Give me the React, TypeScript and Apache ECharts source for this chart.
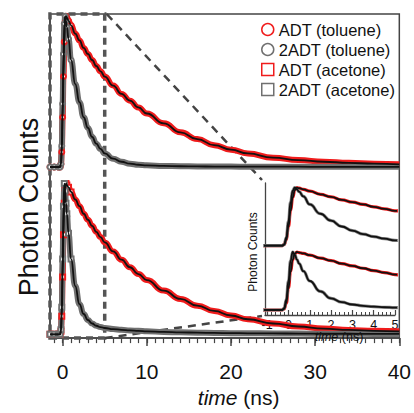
import React, { useEffect, useRef } from "react";
import * as echarts from "echarts";

// time axis (ns)
const TIME = [-1.5, -1, -0.5, -0.3, -0.2, -0.1, 0, 0.1, 0.2, 0.3, 0.4, 0.5, 0.7, 1, 1.5, 2, 2.5, 3, 3.5, 4, 4.5, 5, 6, 7, 8, 9, 10, 12, 14, 16, 18, 20, 22, 25, 28, 31, 34, 37, 40];
// normalised photon counts
const ADT_TOL = [0, 0, 0, 0, 0.02, 0.1, 0.33, 0.6, 0.83, 0.96, 1.0, 0.99, 0.97, 0.94, 0.885, 0.84, 0.79, 0.75, 0.71, 0.67, 0.635, 0.6, 0.54, 0.485, 0.44, 0.395, 0.355, 0.29, 0.23, 0.185, 0.145, 0.115, 0.09, 0.062, 0.046, 0.035, 0.028, 0.022, 0.018];
const TADT_TOL = [0, 0, 0, 0, 0.02, 0.14, 0.42, 0.75, 0.95, 1.0, 0.97, 0.93, 0.85, 0.71, 0.55, 0.43, 0.33, 0.26, 0.2, 0.155, 0.12, 0.09, 0.055, 0.035, 0.022, 0.015, 0.011, 0.007, 0.005, 0.004, 0.003, 0.003, 0.002, 0.002, 0.002, 0.001, 0.001, 0.001, 0.001];
const ADT_ACE = [0, 0, 0, 0, 0.02, 0.12, 0.38, 0.66, 0.87, 0.97, 1.0, 0.99, 0.975, 0.945, 0.895, 0.85, 0.8, 0.76, 0.72, 0.68, 0.645, 0.61, 0.55, 0.495, 0.445, 0.4, 0.36, 0.29, 0.235, 0.19, 0.155, 0.125, 0.1, 0.072, 0.052, 0.038, 0.029, 0.023, 0.02];
const TADT_ACE = [0, 0, 0, 0, 0.03, 0.18, 0.5, 0.85, 1.0, 0.95, 0.87, 0.8, 0.67, 0.5, 0.32, 0.2, 0.135, 0.095, 0.072, 0.057, 0.048, 0.042, 0.035, 0.03, 0.026, 0.023, 0.02, 0.016, 0.013, 0.011, 0.009, 0.008, 0.007, 0.006, 0.005, 0.004, 0.004, 0.003, 0.003];

const NAMES = ["ADT (toluene)", "2ADT (toluene)", "ADT (acetone)", "2ADT (acetone)"];
const X_TICKS = [0, 10, 20, 30, 40];
const INSET_X_TICKS = [-1, 0, 1, 2, 3, 4, 5];

const X_MIN = -1.5, X_MAX = 40;
const Y_MIN = -0.025, Y_MAX = 2.125;
const OFFSET = 1.11; // vertical stacking of the toluene traces
const BOX = [-1.5, 5]; // zoom region
const IX_MIN = -1.1, IX_MAX = 5;
const IY_MIN = -0.086, IY_MAX = 2.19;

const RED = "#f01c1c";
const GRAY = "#707070";
const FONT = "Liberation Sans, Arial, Helvetica, sans-serif";

function range(a: number, b: number, s: number) {
  const out: number[] = [];
  for (let v = a; v <= b + 1e-9; v += s) out.push(Math.round(v * 100) / 100);
  return out;
}

export default function App() {
  const ref = useRef<HTMLDivElement>(null);
  useEffect(() => {
    document.body.style.margin = "0";
    const chart = echarts.init(ref.current!, null, { renderer: "svg" });
    const sets = [
      { name: NAMES[0], vals: ADT_TOL, off: OFFSET, color: RED, sym: "emptyCircle" },
      { name: NAMES[1], vals: TADT_TOL, off: OFFSET, color: GRAY, sym: "emptyCircle" },
      { name: NAMES[2], vals: ADT_ACE, off: 0, color: RED, sym: "emptyRect" },
      { name: NAMES[3], vals: TADT_ACE, off: 0, color: GRAY, sym: "emptyRect" },
    ];
    const pts = (s: any) => s.vals.map((v: number, i: number) => [TIME[i], v + s.off]);
    const series: any[] = [];
    sets.forEach((s, k) => {
      series.push({
        type: "line", name: s.name, xAxisIndex: 0, yAxisIndex: 0, data: pts(s),
        smooth: true, smoothMonotone: "x", symbol: s.sym,
        symbolSize: (v: number[]) => (v[0] <= 1 ? 5 : 0), showSymbol: true,
        itemStyle: { color: s.color, borderWidth: 1 }, lineStyle: { color: s.color, width: 6 }, z: 2,
        markArea: k === 0 ? {
          silent: true,
          itemStyle: { color: "transparent", borderColor: "#555", borderWidth: 3.5, borderType: [7, 5] },
          data: [[{ xAxis: BOX[0] }, { xAxis: BOX[1] }]],
        } : undefined,
      });
    });
    sets.forEach((s) => {
      series.push({
        type: "line", name: s.name + " fit", xAxisIndex: 0, yAxisIndex: 0, data: pts(s),
        smooth: true, smoothMonotone: "x", showSymbol: false, silent: true,
        lineStyle: { color: "#111", width: 1.8 }, z: 3,
      });
    });
    sets.forEach((s) => {
      series.push({
        type: "line", name: s.name + " inset", xAxisIndex: 2, yAxisIndex: 1, data: pts(s),
        smooth: true, smoothMonotone: "x", showSymbol: false, silent: true, clip: true,
        lineStyle: { color: s.color === RED ? RED : "#888", width: 3.2 }, z: 2,
      });
    });
    sets.forEach((s) => {
      series.push({
        type: "line", name: s.name + " inset fit", xAxisIndex: 2, yAxisIndex: 1, data: pts(s),
        smooth: true, smoothMonotone: "x", showSymbol: false, silent: true, clip: true,
        lineStyle: { color: "#111", width: 1.8 }, z: 3,
      });
    });

    const axisCol = "#444";
    chart.setOption({
      animation: false,
      backgroundColor: "#fff",
      textStyle: { fontFamily: FONT },
      legend: {
        orient: "vertical", left: 261, top: 21, padding: 0, itemGap: 3, itemWidth: 12, itemHeight: 12,
        textStyle: { fontSize: 16.5, lineHeight: 16, color: "#111", fontFamily: FONT },
        data: sets.map((s) => ({
          name: s.name, icon: s.sym === "emptyCircle" ? "circle" : "rect",
          itemStyle: { color: "transparent", borderColor: s.color, borderWidth: 1.5 },
        })),
        selectedMode: false,
      },
      grid: [
        { left: 50, top: 14, width: 352, height: 342, show: true, borderColor: axisCol, borderWidth: 1.5, backgroundColor: "transparent" },
        { left: 265, top: 183, width: 130, height: 132 },
      ],
      xAxis: [
        {
          type: "value", gridIndex: 0, min: X_MIN, max: X_MAX, position: "bottom",
          axisLine: { onZero: false, lineStyle: { color: axisCol, width: 1.5 } },
          axisTick: { show: true, inside: false, length: 8, customValues: X_TICKS, lineStyle: { color: axisCol, width: 1.5 } },
          axisLabel: { customValues: X_TICKS, fontSize: 21, color: "#111", margin: 23, fontFamily: FONT },
          splitLine: { show: false },
          name: "{i|time} (ns)", nameLocation: "middle", nameGap: 46,
          nameTextStyle: { fontSize: 21, color: "#111", padding: [0, 0, 0, 28], fontFamily: FONT, rich: { i: { fontStyle: "italic", fontSize: 21, color: "#111", fontFamily: FONT } } },
        },
        {
          type: "value", gridIndex: 0, min: X_MIN, max: X_MAX, position: "bottom",
          axisLine: { show: false, onZero: false },
          axisTick: { show: true, inside: false, length: 5, customValues: range(-1, 40, 1), lineStyle: { color: axisCol, width: 1.2 } },
          axisLabel: { show: false }, splitLine: { show: false },
        },
        {
          type: "value", gridIndex: 1, min: IX_MIN, max: IX_MAX, position: "bottom",
          axisLine: { onZero: false, lineStyle: { color: axisCol, width: 1.3 } },
          axisTick: { show: true, inside: true, length: 5, customValues: INSET_X_TICKS, lineStyle: { color: axisCol, width: 1.2 } },
          axisLabel: { customValues: INSET_X_TICKS, fontSize: 12.5, color: "#111", margin: 3, fontFamily: FONT },
          splitLine: { show: false },
        },
        {
          type: "value", gridIndex: 1, min: IX_MIN, max: IX_MAX, position: "bottom",
          axisLine: { show: false, onZero: false },
          axisTick: { show: true, inside: true, length: 3, customValues: range(-1, 5, 0.2), lineStyle: { color: axisCol, width: 1 } },
          axisLabel: { show: false }, splitLine: { show: false },
        },
      ],
      yAxis: [
        {
          type: "value", gridIndex: 0, min: Y_MIN, max: Y_MAX,
          axisLine: { show: true, onZero: false, lineStyle: { color: axisCol, width: 1.5 } },
          axisTick: { show: false }, axisLabel: { show: false }, splitLine: { show: false },
        },
        {
          type: "value", gridIndex: 1, min: IY_MIN, max: IY_MAX,
          axisLine: { show: true, onZero: false, lineStyle: { color: axisCol, width: 1.3 } },
          axisTick: { show: false }, axisLabel: { show: false }, splitLine: { show: false },
        },
      ],
      series,
    });

    const a1 = chart.convertToPixel({ xAxisIndex: 0, yAxisIndex: 0 }, [BOX[1], Y_MAX]) as number[];
    const b1 = chart.convertToPixel({ xAxisIndex: 2, yAxisIndex: 1 }, [IX_MIN, IY_MAX]) as number[];
    const a2 = chart.convertToPixel({ xAxisIndex: 0, yAxisIndex: 0 }, [BOX[1], Y_MIN]) as number[];
    const b2 = chart.convertToPixel({ xAxisIndex: 2, yAxisIndex: 1 }, [IX_MIN, IY_MIN]) as number[];
    const dash = { stroke: "#444", lineWidth: 2.5, lineDash: [8, 6], fill: "none" };
    const txt = "#111";
    chart.setOption({
      graphic: [
        { type: "line", silent: true, z: 1, shape: { x1: a1[0] + 2, y1: a1[1], x2: b1[0] - 3, y2: b1[1] - 3 }, style: dash },
        { type: "line", silent: true, z: 1, shape: { x1: a2[0], y1: a2[1], x2: b2[0] - 3, y2: b2[1] + 1 }, style: dash },
        {
          type: "text", silent: true, z: 50, x: 29, y: 207, rotation: Math.PI / 2,
          style: { text: "Photon Counts", fill: txt, font: `27px ${FONT}`, align: "center", verticalAlign: "middle" },
        },
        {
          type: "text", silent: true, z: 50, x: b1[0] - 12, y: 252, rotation: Math.PI / 2,
          style: { text: "Photon Counts", fill: txt, font: `12px ${FONT}`, align: "center", verticalAlign: "middle" },
        },
        {
          type: "text", silent: true, z: 50, x: 339, y: b2[1] + 22,
          style: {
            text: "{i|time} (ns)", fill: txt, fontSize: 12.5, fontFamily: FONT, align: "center", verticalAlign: "middle",
            rich: { i: { fontStyle: "italic", fontSize: 12.5, fontFamily: FONT, fill: txt } },
          },
        },
      ],
    });
    return () => chart.dispose();
  }, []);
  return <div ref={ref} style={{ position: "fixed", left: 0, top: 0, width: 414, height: 413 }} />;
}
